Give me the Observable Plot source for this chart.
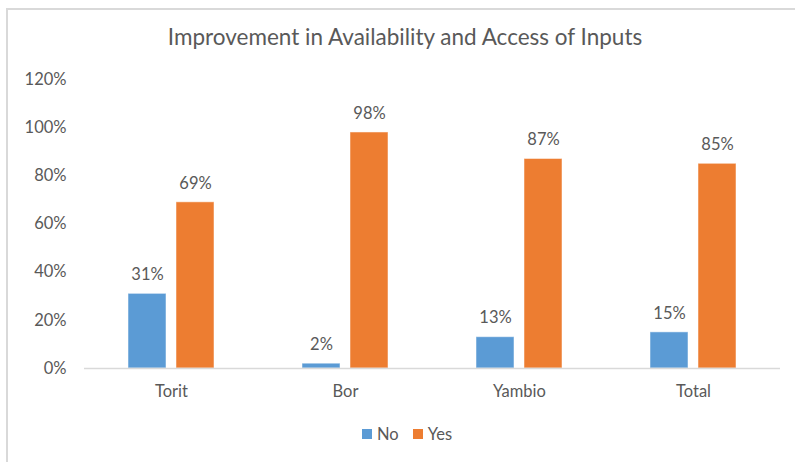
<!DOCTYPE html>
<html>
<head>
<meta charset="utf-8">
<script src="https://cdn.jsdelivr.net/npm/d3@7"></script>
<script src="https://cdn.jsdelivr.net/npm/@observablehq/plot@0.6"></script>
<style>
  html, body { margin: 0; padding: 0; background: #fff; }
  body { width: 795px; height: 462px; overflow: hidden; position: relative; font-family: Lato, "Open Sans", sans-serif; }
  #frame { position: absolute; left: 6px; top: 8px; width: 820px; height: 480px; border: 2px solid #d9d9d9; box-sizing: border-box; }
  #chart { position: absolute; left: 0; top: 0; }
  #title { position: absolute; left: 0; width: 810px; top: 26px; text-align: center; font-size: 22.5px; color: #595959; line-height: 1; white-space: nowrap; }
  #legend { position: absolute; top: 426px; left: 362px; display: flex; align-items: center; font-size: 16.5px; color: #595959; line-height: 1; }
  #legend .sw { width: 10px; height: 10px; display: inline-block; margin-right: 5px; }
  #legend .item { display: flex; align-items: center; margin-right: 14px; }
</style>
</head>
<body>
<div id="frame"></div>
<div id="chart"></div>
<div id="title">Improvement in Availability and Access of Inputs</div>
<div id="legend"></div>
<script>
const categories = ["Torit", "Bor", "Yambio", "Total"];
const seriesNames = ["No", "Yes"];
const noValues = [0.31, 0.02, 0.13, 0.15];
const yesValues = [0.69, 0.98, 0.87, 0.85];
const yTicks = [0, 0.2, 0.4, 0.6, 0.8, 1.0, 1.2];
const colors = ["#5b9bd5", "#ed7d31"];

const data = [];
categories.forEach((c, i) => {
  data.push({category: c, series: "No", value: noValues[i]});
  data.push({category: c, series: "Yes", value: yesValues[i]});
});

const pct = d3.format(".0%");

const plot = Plot.plot({
  width: 795,
  height: 462,
  marginTop: 79,
  marginBottom: 94,
  marginLeft: 84,
  marginRight: 15,
  style: {fontFamily: "Lato, 'Open Sans', sans-serif", fontSize: "16.5px", color: "#595959", background: "transparent"},
  fx: {domain: categories, padding: 0, label: null, axis: "bottom", tickSize: 0, tickPadding: 17},
  x: {domain: seriesNames, paddingInner: 0.2, paddingOuter: 0.9, axis: null},
  y: {domain: [0, 1.2], ticks: yTicks, tickFormat: pct, label: null, tickSize: 0, tickPadding: 18},
  color: {domain: seriesNames, range: colors},
  marks: [
    Plot.barY(data, {fx: "category", x: "series", y: "value", fill: "series", stroke: "#ffffff", strokeOpacity: 0.5, strokeWidth: 1}),
    Plot.ruleY([0], {stroke: "#d9d9d9", strokeWidth: 1.5}),
    Plot.text(data, {fx: "category", x: "series", y: "value", text: d => pct(d.value), dy: -19, fill: "#595959", fontSize: 16.5})
  ]
});
document.getElementById("chart").appendChild(plot);

const legend = document.getElementById("legend");
seriesNames.forEach((s, i) => {
  const item = document.createElement("span");
  item.className = "item";
  const sw = document.createElement("span");
  sw.className = "sw";
  sw.style.background = colors[i];
  item.appendChild(sw);
  item.appendChild(document.createTextNode(s));
  legend.appendChild(item);
});
</script>
</body>
</html>
